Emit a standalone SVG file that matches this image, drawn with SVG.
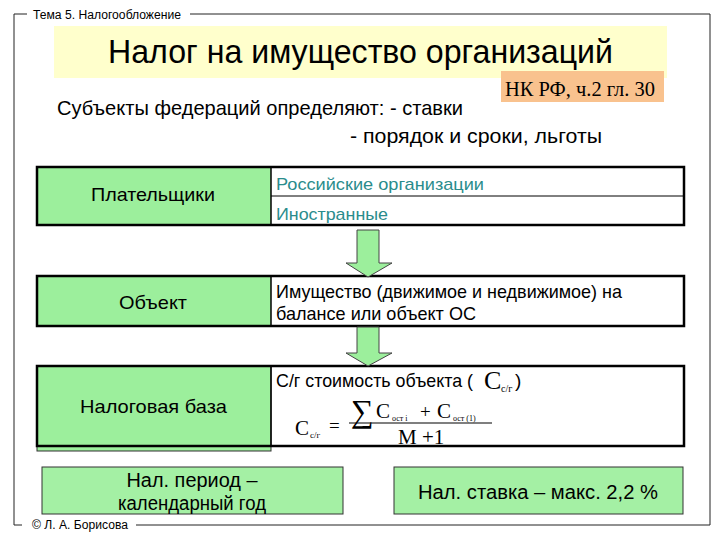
<svg xmlns="http://www.w3.org/2000/svg" width="720" height="540" viewBox="0 0 720 540">
<defs>
<style>
.s{font-family:"Liberation Sans",Arial,sans-serif;fill:#000}
.f{font-family:"Liberation Serif","Times New Roman",serif;fill:#000}
.frame{stroke:#222;stroke-width:1;fill:none}
.row{fill:none;stroke:#000;stroke-width:2.5}
.green{fill:#9cef9c}
.gbox{fill:#a4f0a4;stroke:#333;stroke-width:1}
.arrow{fill:#9cef9c;stroke:#444;stroke-width:1}
.teal{fill:#2a8c8c}
</style>
</defs>
<rect width="720" height="540" fill="#fff"/>
<g id="frame">
<path class="frame" d="M14 525 V14 H27 M190 14 H710 V525 H136 M14 525 H22"/>
<text class="s" x="33" y="19" font-size="12" textLength="148" lengthAdjust="spacingAndGlyphs">Тема 5. Налогообложение</text>
<text class="s" x="32" y="529" font-size="12" textLength="96" lengthAdjust="spacingAndGlyphs">© Л. А. Борисова</text>
</g>
<g id="title">
<rect x="54" y="26" width="613" height="52" fill="#ffffcc"/>
<text class="s" x="108" y="63" font-size="33" textLength="505" lengthAdjust="spacingAndGlyphs">Налог на имущество организаций</text>
</g>
<g id="law">
<rect x="501" y="71" width="163" height="31" fill="#f9c28e"/>
<text class="f" x="505" y="96" font-size="21" textLength="150" lengthAdjust="spacingAndGlyphs">НК РФ, ч.2 гл. 30</text>
</g>
<g id="subjects">
<text class="s" x="57" y="115" font-size="21" textLength="406" lengthAdjust="spacingAndGlyphs">Субъекты федераций определяют: - ставки</text>
<text class="s" x="350" y="143" font-size="21" textLength="252" lengthAdjust="spacingAndGlyphs">- порядок и сроки, льготы</text>
</g>
<g id="payers">
<rect class="green" x="37" y="167" width="234" height="58"/>
<rect class="row" x="37" y="167" width="647" height="58"/>
<line x1="271" y1="167" x2="271" y2="225" stroke="#000" stroke-width="1.5"/>
<line x1="271" y1="196" x2="684" y2="196" stroke="#000" stroke-width="1"/>
<text class="s" x="91" y="201" font-size="19" textLength="124" lengthAdjust="spacingAndGlyphs">Плательщики</text>
<text class="s teal" x="276" y="190" font-size="17" textLength="208" lengthAdjust="spacingAndGlyphs">Российские организации</text>
<text class="s teal" x="276" y="220" font-size="17" textLength="112" lengthAdjust="spacingAndGlyphs">Иностранные</text>
</g>
<g id="object">
<rect class="green" x="37" y="276" width="234" height="50"/>
<rect class="row" x="37" y="276" width="647" height="50"/>
<line x1="271" y1="276" x2="271" y2="326" stroke="#000" stroke-width="1.5"/>
<text class="s" x="119" y="309" font-size="19" textLength="68" lengthAdjust="spacingAndGlyphs">Объект</text>
<text class="s" x="276" y="298" font-size="19" textLength="346" lengthAdjust="spacingAndGlyphs">Имущество (движимое и недвижимое) на</text>
<text class="s" x="276" y="320" font-size="19" textLength="200" lengthAdjust="spacingAndGlyphs">балансе или объект ОС</text>
</g>
<g id="base">
<rect class="green" x="37" y="366" width="234" height="85" stroke="#333" stroke-width="1"/>
<rect class="row" x="37" y="366" width="647" height="80"/>
<line x1="271" y1="366" x2="271" y2="446" stroke="#000" stroke-width="1.5"/>
<text class="s" x="80" y="413" font-size="19" textLength="147" lengthAdjust="spacingAndGlyphs">Налоговая база</text>
<text class="s" x="276" y="387" font-size="19" textLength="197" lengthAdjust="spacingAndGlyphs">С/г стоимость объекта (</text>
<text class="f" x="484" y="389" font-size="26">С</text>
<text class="f" x="501" y="392" font-size="10">с/г</text>
<text class="s" x="515" y="387" font-size="19">)</text>
<text class="f" x="295" y="435" font-size="21">С</text>
<text class="f" x="310" y="438" font-size="9">с/г</text>
<text class="f" x="329" y="432" font-size="19">=</text>
<line x1="349" y1="423" x2="492" y2="423" stroke="#000" stroke-width="1.2"/>
<text class="f" x="351" y="422" font-size="32">∑</text>
<text class="f" x="376" y="418" font-size="21">С</text>
<text class="f" x="392" y="421" font-size="8">ост i</text>
<text class="f" x="420" y="418" font-size="19">+</text>
<text class="f" x="437" y="418" font-size="21">С</text>
<text class="f" x="453" y="421" font-size="8">ост (1)</text>
<text class="f" x="398" y="444" font-size="21">М +1</text>
</g>
<g id="period">
<rect class="gbox" x="42" y="467" width="301" height="47"/>
<text class="s" x="192" y="487" font-size="20" text-anchor="middle" textLength="131" lengthAdjust="spacingAndGlyphs">Нал. период –</text>
<text class="s" x="192" y="510" font-size="20" text-anchor="middle" textLength="148" lengthAdjust="spacingAndGlyphs">календарный год</text>
</g>
<g id="rate">
<rect class="gbox" x="394" y="467" width="289" height="47"/>
<text class="s" x="538" y="499" font-size="20" text-anchor="middle" textLength="240" lengthAdjust="spacingAndGlyphs">Нал. ставка – макс. 2,2 %</text>
</g>
<g id="connectors">
<path class="arrow" d="M357 230 H379 V263 H392 L368 277 L346 263 H357 Z"/>
<path class="arrow" d="M357 327 H379 V353 H392 L368 366 L346 353 H357 Z"/>
</g>
</svg>
